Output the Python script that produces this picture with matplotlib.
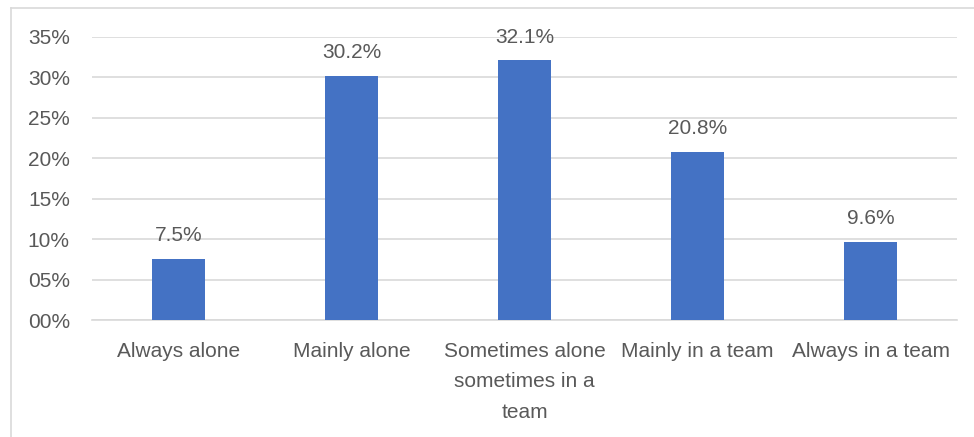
import matplotlib.pyplot as plt
from matplotlib.lines import Line2D
from matplotlib.ticker import FuncFormatter

categories = ['Always alone', 'Mainly alone', 'Sometimes alone\nsometimes in a\nteam',
              'Mainly in a team', 'Always in a team']
values = [7.5, 30.2, 32.1, 20.8, 9.6]
yticks = [0, 5, 10, 15, 20, 25, 30, 35]

plt.rcParams['font.family'] = ['Liberation Sans', 'DejaVu Sans']
text_col = '#595959'
fs = 15

fig = plt.figure(figsize=(9.74, 4.37), dpi=100)
ax = fig.add_axes([92 / 974, 117 / 437, 865 / 974, 283 / 437])

x = range(len(categories))
bars = ax.bar(x, values, width=0.31, color='#4472C4', zorder=3)
for b, v in zip(bars, values):
    ax.annotate(f'{v:.1f}%', (b.get_x() + b.get_width() / 2, v), xytext=(0, 10),
                textcoords='offset points', ha='center', va='bottom',
                fontsize=fs, color=text_col)

ax.set_xlim(-0.5, len(categories) - 0.5)
ax.set_ylim(0, 35)
ax.set_yticks(yticks)
ax.yaxis.set_major_formatter(FuncFormatter(lambda v, p: f'{int(v):02d}%'))
ax.grid(axis='y', color='#d9d9d9', linewidth=1.2, zorder=0)
ax.set_xticks(list(x))
ax.set_xticklabels(categories, fontsize=fs, color=text_col, linespacing=1.75)
ax.tick_params(axis='y', labelsize=fs, labelcolor=text_col, length=0, pad=16)
ax.tick_params(axis='x', length=0, pad=16)
for s in ['top', 'right', 'left']:
    ax.spines[s].set_visible(False)
ax.spines['bottom'].set_color('#d9d9d9')
ax.spines['bottom'].set_linewidth(1.2)

# chart border (left and top edges visible in the crop)
fig.add_artist(Line2D([10.5 / 974, 10.5 / 974], [0, 1 - 7.5 / 437],
                      transform=fig.transFigure, color='#d9d9d9', linewidth=1.2))
fig.add_artist(Line2D([10.5 / 974, 1], [1 - 7.5 / 437, 1 - 7.5 / 437],
                      transform=fig.transFigure, color='#d9d9d9', linewidth=1.2))

fig.savefig('out.png', dpi=100)
